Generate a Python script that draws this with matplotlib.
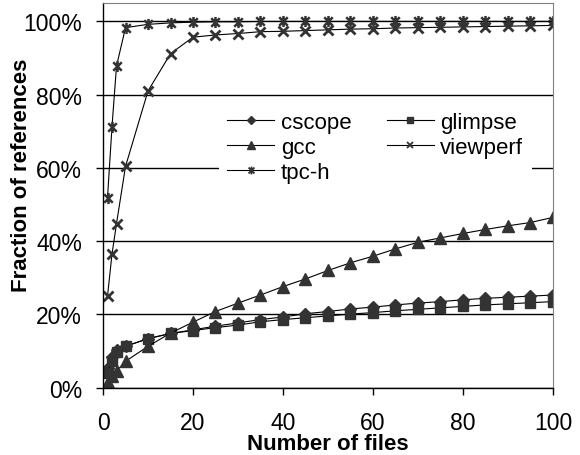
import numpy as np
import matplotlib.pyplot as plt
from matplotlib.path import Path

plt.rcParams['font.family'] = ['Liberation Sans', 'DejaVu Sans']

# number of files
files = [1, 2, 3, 5, 10, 15, 20, 25, 30, 35, 40, 45, 50, 55, 60, 65, 70, 75, 80, 85, 90, 95, 100]

cscope = [5.5, 8.5, 10.3, 11.3, 13.4, 14.8, 15.8, 16.8, 17.7, 18.6, 19.3, 20.2, 20.8, 21.5, 22.0, 22.6, 23.1, 23.5, 24.0, 24.4, 24.7, 25.0, 25.3]
glimpse = [4.0, 7.3, 9.8, 11.3, 13.4, 14.8, 15.6, 16.4, 17.1, 18.0, 18.6, 19.1, 19.6, 20.1, 20.5, 21.0, 21.4, 21.8, 22.2, 22.6, 22.9, 23.2, 23.5]
gcc = [1.5, 3.3, 4.5, 7.2, 11.3, 14.9, 17.9, 20.8, 23.1, 25.3, 27.6, 29.7, 32.0, 34.1, 35.9, 37.9, 39.7, 40.9, 42.1, 43.2, 44.2, 45.1, 46.5]
viewperf = [25.0, 36.5, 44.8, 60.4, 81.0, 91.2, 95.7, 96.3, 96.7, 97.2, 97.3, 97.5, 97.7, 97.9, 98.0, 98.2, 98.3, 98.4, 98.5, 98.6, 98.7, 98.8, 98.9]
tpch = [51.9, 71.3, 87.8, 98.3, 99.2, 99.6, 99.8, 99.9, 99.9, 100, 100, 100, 100, 100, 100, 100, 100, 100, 100, 100, 100, 100, 100]

# asterisk marker: x with a vertical bar
star = Path([(-1, -1), (1, 1), (-1, 1), (1, -1), (0, -1.3), (0, 1.3)],
            [Path.MOVETO, Path.LINETO, Path.MOVETO, Path.LINETO, Path.MOVETO, Path.LINETO])

fig = plt.figure(figsize=(5.8, 4.56), dpi=100)
ax = fig.add_axes([0.1776, 0.1476, 0.7758, 0.8434])

mc = '#333333'
kw = dict(color='black', lw=0.8, markerfacecolor=mc, markeredgecolor=mc)
x = np.array(files)
l1, = ax.plot(x, np.array(cscope) / 100, marker='D', markersize=6, label='cscope', **kw)
l2, = ax.plot(x, np.array(glimpse) / 100, marker='s', markersize=7, label='glimpse', **kw)
l3, = ax.plot(x, np.array(gcc) / 100, marker='^', markersize=8, label='gcc', **kw)
l4, = ax.plot(x, np.array(viewperf) / 100, marker='x', markersize=7, markeredgewidth=2, label='viewperf', **kw)
l5, = ax.plot(x, np.array(tpch) / 100, marker=star, markersize=8, markeredgewidth=1.8, label='tpc-h', **kw)

ax.set_xlim(0, 100)
ax.set_ylim(0, 1.05)
ax.set_xticks(range(0, 101, 20))
ax.set_yticks([0, 0.2, 0.4, 0.6, 0.8, 1.0])
ax.set_yticklabels(['0%', '20%', '40%', '60%', '80%', '100%'])
ax.yaxis.grid(True, color='black', lw=1)
ax.set_axisbelow(True)
ax.tick_params(labelsize=16.5, length=5, width=1, direction='out')
ax.tick_params(axis='x', pad=12)
ax.tick_params(axis='y', pad=10)

for s in ['top', 'right']:
    ax.spines[s].set_color('#808080')
ax.spines['left'].set_linewidth(1)
ax.spines['bottom'].set_linewidth(1)

ax.set_xlabel('Number of files', fontsize=16, fontweight='bold')
ax.xaxis.set_label_coords(0.5, -0.118)
ax.set_ylabel('Fraction of references', fontsize=16, fontweight='bold')
ax.yaxis.set_label_coords(-0.158, 0.555)

leg = ax.legend([l1, l3, l5, l2, l4], ['cscope', 'gcc', 'tpc-h', 'glimpse', 'viewperf'],
                ncol=2, loc='upper left', bbox_to_anchor=(0.232, 0.77), fontsize=16,
                handlelength=2.1, handletextpad=0.3, columnspacing=1.6, labelspacing=0.18,
                markerscale=0.7, borderpad=0.4, fancybox=False, framealpha=1,
                facecolor='white', edgecolor='none')
for h in leg.legend_handles:
    if h.get_markeredgewidth() > 1.5:
        h.set_markeredgewidth(1.3)

fig.savefig('out.png', dpi=100)
